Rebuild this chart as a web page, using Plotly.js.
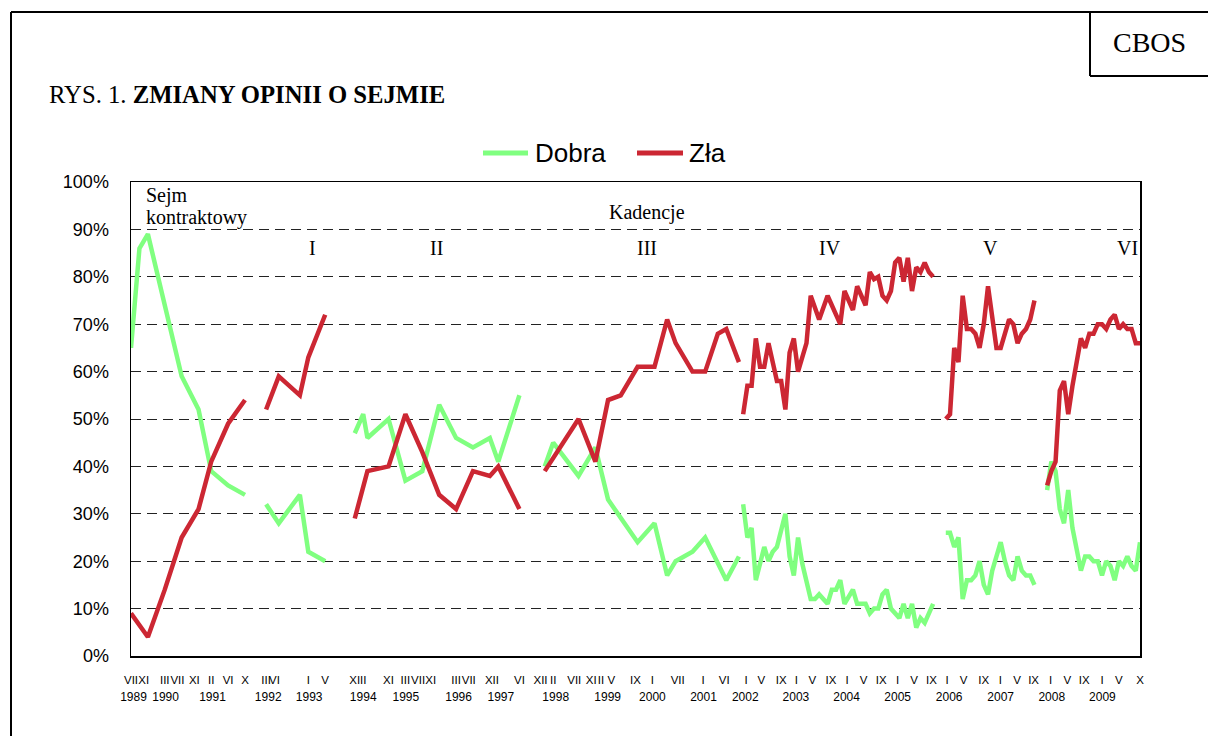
<!DOCTYPE html>
<html>
<head>
<meta charset="utf-8">
<script src="https://cdn.plot.ly/plotly-3.0.1.min.js"></script>
<style>
  html, body { margin: 0; padding: 0; background: #ffffff; }
  #chart { width: 1208px; height: 736px; }
</style>
</head>
<body>
<div id="chart"></div>
<script>
// ---- DATA (x = position on the survey axis, one step per category) ----
// Sejm kontraktowy
const kontraktowyIdx   = [0, 2, 4, 8, 12, 16, 19, 23, 27];
const kontraktowyDobra = [65, 86, 89, 74, 59, 52, 39, 36, 34];
const kontraktowyZla   = [9, null, 4, 14, 25, 31, 41, 49, 54];
// Kadencja I
const kadencja1Idx   = [32, 35, 40, 42, 46];
const kadencja1Dobra = [32, 28, 34, 22, 20];
const kadencja1Zla   = [52, 59, 55, 63, 72];
// Kadencja II
const kadencja2Idx   = [53, 55, 56, 61, 65, 69, 73, 77, 81, 85, 87, 92];
const kadencja2Dobra = [47, 51, 46, 50, 37, 39, 53, 46, 44, 46, 41, 55];
const kadencja2Zla   = [29, null, 39, 40, 51, 43, 34, 31, 39, 38, 40, 31];
// Kadencja III
const kadencja3Idx   = [98, 100, 106, 110, 113, 116, 120, 124, 127, 129, 133, 136, 139, 141, 144];
const kadencja3Dobra = [40, 45, 38, 44, 33, null, 24, 28, 17, 20, 22, 25, null, 16, 21];
const kadencja3Zla   = [39, null, 50, 41, 54, 55, 61, 61, 71, 66, 60, 60, 68, 69, 62];
// Kadencja IV (monthly, from position 145)
const kadencja4Start = 145;
const kadencja4Dobra = [32, 25, 27, 16, null, 23, 20, 22, 23, null, 30, 21, 17, 25, 19.5, null, 12, 12, 13, null,
                        11, 14, 14, 16, 11, null, 14, 11, null, 11, 9, 10, 10, 13, 14, 10, null, 8, 11, 8,
                        11, 6, 8, 7, null, 11];
const kadencja4Zla   = [51, 57, 57, 67, 61, 61, 66, null, 58, 58, 52, 64, 67, 60, null, 66, 76, null, 71, null,
                        76, null, null, 70, 77, null, 73, 78, null, 74, 81, 79.5, 80, 76, 75, 77, 83, 84, 79, 84,
                        77, 82, 81, 83, 81, 80];
// Kadencja V (monthly, from position 193)
const kadencja5Start = 193;
const kadencja5Dobra = [26, 26, 23, 25, 12, 16, 16, 17, 20, 15, 13, 18, 21, 24, 20, 17, 16, 21, 18, 17, 17, 15];
const kadencja5Zla   = [50, 51, 65, 62, 76, 69, 69, 68, 65, 70, 78, 71, 65, 65, 68, 71, 70, 66, 68, 69, 71, 75];
// Kadencja VI (monthly, from position 217)
const kadencja6Start = 217;
const kadencja6Dobra = [35, 41, 39, 31, 28, 35, 27, 23, 18, 21, 21, 20, 20, 17, 20, 19, 16, 20, 19, 21, 19, 18, 24];
const kadencja6Zla   = [36, 39, 41, 56, 58, 51, 57, 62, 67, 65, 68, 68, 70, 70, 69, 71, 72, 69, 70, 69, 69, 66, 66];

// Axis labels
const monthTickIdx  = [0, 3, 8, 11, 15, 19, 23, 27, 32, 34, 42, 46, 53, 55, 61, 65, 68, 71, 77, 80, 85.5, 92,
                       97, 100, 105, 109, 111.3, 113.8, 119.5, 123.5, 129.5, 135.5, 140.5,
                       145.7, 149.3, 154, 157.6, 161.4, 165.8, 169.6, 173.5, 177.7, 181.6, 185.5, 189.6,
                       193.3, 197.2, 202, 205.9, 209.9, 213.8, 217.8, 221.8, 225.8, 230, 234, 239];
const monthTickText = ["VII", "XI", "III", "VII", "XI", "II", "VI", "X", "III", "VI", "I", "V", "XI", "II", "XI", "III", "VII", "XI", "III", "VII", "XII", "VI",
                       "XII", "II", "VII", "XI", "II", "V", "IX", "I", "VII", "I", "VI",
                       "I", "V", "IX", "I", "V", "IX", "I", "V", "IX", "I", "V", "IX",
                       "I", "V", "IX", "I", "V", "IX", "I", "V", "IX", "I", "V", "X"];
const yearTickIdx  = [0.6, 8.2, 19.3, 32.5, 42.2, 55, 65.1, 77.6, 87.6, 100.6, 112.9, 123.5, 135.6, 145.5, 157.5, 169.5, 181.6, 193.8, 206, 218.1, 230.1];
const yearTickText = ["1989", "1990", "1991", "1992", "1993", "1994", "1995", "1996", "1997", "1998", "1999", "2000",
                      "2001", "2002", "2003", "2004", "2005", "2006", "2007", "2008", "2009"];
const yTickVals = [0, 10, 20, 30, 40, 50, 60, 70, 80, 90, 100];

const seriesNames = ["Dobra", "Zła"];
const lastIdx = 239;

// ---- build traces ----
const GREEN = "#80FF80";
const RED = "#CC2733";
function monthly(start, arr) { return arr.map((_, i) => start + i); }

const terms = [
  [kontraktowyIdx, kontraktowyDobra, kontraktowyZla],
  [kadencja1Idx, kadencja1Dobra, kadencja1Zla],
  [kadencja2Idx, kadencja2Dobra, kadencja2Zla],
  [kadencja3Idx, kadencja3Dobra, kadencja3Zla],
  [monthly(kadencja4Start, kadencja4Dobra), kadencja4Dobra, kadencja4Zla],
  [monthly(kadencja5Start, kadencja5Dobra), kadencja5Dobra, kadencja5Zla],
  [monthly(kadencja6Start, kadencja6Dobra), kadencja6Dobra, kadencja6Zla]
];

const traces = [];
terms.forEach((t, k) => {
  traces.push({
    x: t[0], y: t[1], type: "scatter", mode: "lines", connectgaps: true,
    name: seriesNames[0], legendgroup: "d", showlegend: false,
    line: { color: GREEN, width: 4.5, shape: "linear" }, hoverinfo: "skip"
  });
  traces.push({
    x: t[0], y: t[2], type: "scatter", mode: "lines", connectgaps: true,
    name: seriesNames[1], legendgroup: "z", showlegend: false,
    line: { color: RED, width: 4.5, shape: "linear" }, hoverinfo: "skip"
  });
});
// invisible trace that carries the year labels axis
traces.push({ x: [0, lastIdx], y: [null, null], xaxis: "x2", yaxis: "y", type: "scatter", mode: "lines",
              showlegend: false, hoverinfo: "skip" });

// ---- layout helpers (pixel -> paper) ----
const L = 131, R = 1140, T = 182, B = 656;
const px = x => (x - L) / (R - L);
const py = y => (B - y) / (B - T);

const serif = "Liberation Serif, Times New Roman, serif";
const sans = "Liberation Sans, Arial, sans-serif";

const annotations = [
  { text: "RYS. 1. <b>ZMIANY OPINII O SEJMIE</b>", x: px(47), y: py(95), xanchor: "left", yanchor: "middle",
    font: { family: serif, size: 24.7, color: "#000" } },
  { text: "CBOS", x: px(1149), y: py(43), xanchor: "center", yanchor: "middle",
    font: { family: serif, size: 28, color: "#000" } },
  { text: "Sejm", x: px(144), y: py(195), xanchor: "left", yanchor: "middle", font: { family: serif, size: 20, color: "#000" } },
  { text: "kontraktowy", x: px(144), y: py(218), xanchor: "left", yanchor: "middle", font: { family: serif, size: 20, color: "#000" } },
  { text: "Kadencje", x: px(647), y: py(212), xanchor: "center", yanchor: "middle", font: { family: serif, size: 20, color: "#000" } },
  { text: "I", x: px(312), y: py(248), xanchor: "center", yanchor: "middle", font: { family: serif, size: 20, color: "#000" } },
  { text: "II", x: px(436), y: py(248), xanchor: "center", yanchor: "middle", font: { family: serif, size: 20, color: "#000" } },
  { text: "III", x: px(647), y: py(248), xanchor: "center", yanchor: "middle", font: { family: serif, size: 20, color: "#000" } },
  { text: "IV", x: px(830), y: py(248), xanchor: "center", yanchor: "middle", font: { family: serif, size: 20, color: "#000" } },
  { text: "V", x: px(990), y: py(248), xanchor: "center", yanchor: "middle", font: { family: serif, size: 20, color: "#000" } },
  { text: "VI", x: px(1127), y: py(248), xanchor: "center", yanchor: "middle", font: { family: serif, size: 20, color: "#000" } },
  // legend texts
  { text: seriesNames[0], x: px(533), y: py(153), xanchor: "left", yanchor: "middle", font: { family: sans, size: 26, color: "#000" } },
  { text: seriesNames[1], x: px(687), y: py(153), xanchor: "left", yanchor: "middle", font: { family: sans, size: 26, color: "#000" } }
].map(a => Object.assign({ xref: "paper", yref: "paper", showarrow: false }, a));

const shapes = [
  // outer frame (left and top)
  { type: "line", x0: px(11), x1: px(11), y0: py(12), y1: py(740), line: { color: "#000", width: 2 } },
  { type: "line", x0: px(11), x1: px(1215), y0: py(12), y1: py(12), line: { color: "#000", width: 2 } },
  // CBOS box
  { type: "line", x0: px(1090), x1: px(1090), y0: py(12), y1: py(76), line: { color: "#000", width: 2 } },
  { type: "line", x0: px(1090), x1: px(1215), y0: py(76), y1: py(76), line: { color: "#000", width: 2 } },
  // legend keys
  { type: "line", x0: px(483), x1: px(528), y0: py(153), y1: py(153), line: { color: GREEN, width: 5 } },
  { type: "line", x0: px(637), x1: px(683), y0: py(153), y1: py(153), line: { color: RED, width: 5 } }
].map(s => Object.assign({ xref: "paper", yref: "paper", layer: "above" }, s));

const layout = {
  width: 1208, height: 736,
  margin: { l: L, r: 1208 - R, t: T, b: 736 - B, pad: 0 },
  paper_bgcolor: "#ffffff", plot_bgcolor: "#ffffff",
  showlegend: false,
  xaxis: {
    range: [0, lastIdx], autorange: false, showgrid: false, zeroline: false,
    showline: true, mirror: true, linecolor: "#000", linewidth: 1.5,
    tickmode: "array", tickvals: monthTickIdx, ticktext: monthTickText,
    ticks: "outside", ticklen: 13, tickcolor: "rgba(0,0,0,0)",
    tickfont: { family: sans, size: 11.5, color: "#000" }, tickangle: 0, fixedrange: true
  },
  xaxis2: {
    overlaying: "x", side: "bottom", range: [0, lastIdx], autorange: false, showgrid: false, zeroline: false,
    showline: false, tickmode: "array", tickvals: yearTickIdx, ticktext: yearTickText,
    ticks: "outside", ticklen: 30, tickcolor: "rgba(0,0,0,0)",
    tickfont: { family: sans, size: 12, color: "#000" }, tickangle: 0, fixedrange: true
  },
  yaxis: {
    range: [0, 100], autorange: false, zeroline: false,
    showline: true, mirror: true, linecolor: "#000", linewidth: 1.5,
    tickmode: "array", tickvals: yTickVals, ticktext: yTickVals.map(v => v + "%"),
    ticks: "outside", ticklen: 17, tickcolor: "rgba(0,0,0,0)",
    tickfont: { family: sans, size: 18, color: "#000" },
    showgrid: true, gridcolor: "#222", gridwidth: 1, griddash: "10px,6px", fixedrange: true
  },
  annotations: annotations,
  shapes: shapes
};

Plotly.newPlot("chart", traces, layout, { displayModeBar: false, staticPlot: true });
</script>
</body>
</html>
